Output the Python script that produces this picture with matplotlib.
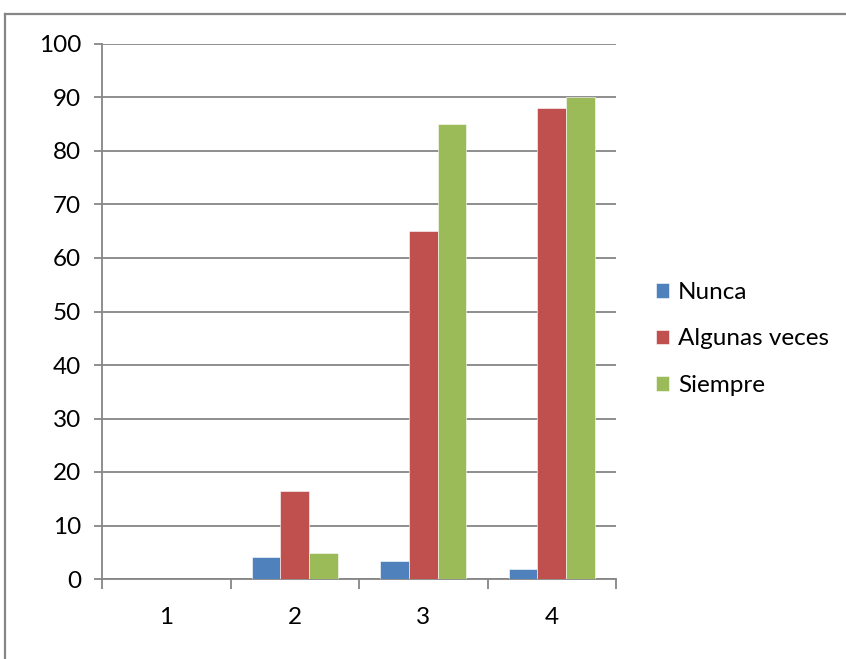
import matplotlib.pyplot as plt
import numpy as np
from matplotlib.lines import Line2D

categories = ['1', '2', '3', '4']
nunca = [0, 4.1, 3.3, 1.9]
algunas = [0, 16.5, 65, 88]
siempre = [0, 4.9, 85, 90]

series = [('Nunca', nunca, '#4F81BD'),
          ('Algunas veces', algunas, '#C0504D'),
          ('Siempre', siempre, '#9BBB59')]

plt.rcParams['font.family'] = ['Lato', 'DejaVu Sans']

fig = plt.figure(figsize=(8.46, 6.59), dpi=100)
ax = fig.add_axes([102 / 846, 1 - 579 / 659, 514 / 846, 535 / 659])

grid_color = '#868686'
x = np.arange(len(categories))
width = 0.223
for i, (name, vals, color) in enumerate(series):
    ax.bar(x + (i - 1) * width, vals, width, color=color, label=name,
           edgecolor='white', linewidth=0.4, zorder=3)

ax.set_xlim(-0.5, len(categories) - 0.5)
ax.set_ylim(0, 100)
ax.set_yticks(range(0, 101, 10))
ax.yaxis.grid(True, color=grid_color, linewidth=1.3, zorder=0)

# category labels centred, tick marks on the boundaries
ax.set_xticks(x)
ax.set_xticklabels(categories)
ax.set_xticks(np.arange(-0.5, len(categories), 1), minor=True)
ax.tick_params(axis='x', which='major', length=0, pad=20, labelsize=17.5)
ax.tick_params(axis='x', which='minor', length=7, width=1.3, color=grid_color)
ax.tick_params(axis='y', length=6, width=1.3, color=grid_color, pad=9, labelsize=17.5)

for side in ['top', 'right']:
    ax.spines[side].set_visible(False)
for side in ['left', 'bottom']:
    ax.spines[side].set_color(grid_color)
    ax.spines[side].set_linewidth(1.3)

ax.legend(loc='center left', bbox_to_anchor=(656 / 846, 1 - 339 / 659),
          bbox_transform=fig.transFigure, frameon=False, fontsize=17.5,
          handlelength=0.55, handleheight=0.55, handletextpad=0.35,
          labelspacing=1.05, borderaxespad=0, borderpad=0)

# outer chart frame
fig.add_artist(Line2D([5 / 846, 1.0], [1 - 13.5 / 659] * 2, color=grid_color, linewidth=1.6))
fig.add_artist(Line2D([5 / 846] * 2, [0, 1 - 13.5 / 659], color=grid_color, linewidth=1.6))

fig.savefig('out.png', dpi=100)
